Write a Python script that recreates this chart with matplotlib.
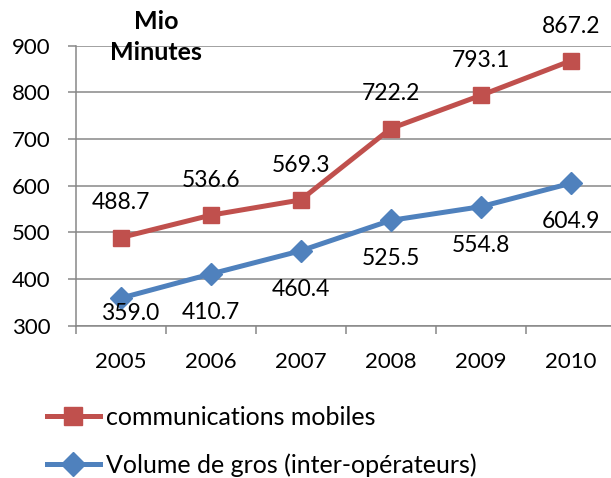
import matplotlib
matplotlib.use("Agg")
from matplotlib import pyplot as plt

# data
years = ["2005", "2006", "2007", "2008", "2009", "2010"]
mobiles = [488.7, 536.6, 569.3, 722.2, 793.1, 867.2]
gros = [359.0, 410.7, 460.4, 525.5, 554.8, 604.9]
y_ticks = [300, 400, 500, 600, 700, 800, 900]

red = "#C0504D"
blue = "#4F81BD"
grid = "#878787"

plt.rcParams["font.family"] = ["Lato", "DejaVu Sans"]
plt.rcParams["font.size"] = 16

fig = plt.figure(figsize=(6.11, 4.78), dpi=100)
ax = fig.add_axes([75.7 / 611, 1 - 325.7 / 478, 540 / 611, 280.2 / 478])

x = list(range(len(years)))
ax.plot(x, mobiles, color=red, lw=3.6, marker="s", ms=12,
        label="communications mobiles", zorder=3)
ax.plot(x, gros, color=blue, lw=3.6, marker="D", ms=11,
        label="Volume de gros (inter-opérateurs)", zorder=3)

# data labels: red above, blue below (first one pushed up by the axis)
for i, v in enumerate(mobiles):
    ax.annotate(f"{v:.1f}", (i, v), xytext=(0, 25), textcoords="offset points",
                ha="center", va="center", fontsize=16.5)
blue_off = [(7, -11), (0, -28), (0, -28), (0, -27.5), (0, -28), (0, -27.5)]
for i, v in enumerate(gros):
    ax.annotate(f"{v:.1f}", (i, v), xytext=blue_off[i], textcoords="offset points",
                ha="center", va="center", fontsize=16.5)

ax.set_xlim(-0.5, len(years) - 0.5)
ax.set_ylim(300, 900)
ax.set_yticks(y_ticks)
ax.set_xticks(x)
ax.set_xticklabels(years)
ax.set_xticks([i - 0.5 for i in range(len(years) + 1)], minor=True)
ax.tick_params(axis="x", which="major", length=0, pad=19)
ax.tick_params(axis="x", which="minor", length=6, width=1.1, color=grid)
ax.tick_params(axis="y", length=6, width=1.1, color=grid, pad=12)

ax.grid(axis="y", color=grid, lw=1.1)
ax.set_axisbelow(True)
for s in ["top", "right"]:
    ax.spines[s].set_visible(False)
for s in ["left", "bottom"]:
    ax.spines[s].set_color(grid)
    ax.spines[s].set_linewidth(1.1)

fig.text(156 / 611, 1 - 37 / 478, "Mio\nMinutes", ha="center", va="center",
         fontweight="bold", fontsize=18, linespacing=1.4)

fig.legend(loc="upper left", bbox_to_anchor=(47 / 611, 1 - 406 / 478),
           frameon=False, handlelength=2.1, handletextpad=0.28,
           labelspacing=0.98, borderaxespad=0, borderpad=0, fontsize=18,
           markerscale=1.1)

fig.savefig("out.png", dpi=100)
